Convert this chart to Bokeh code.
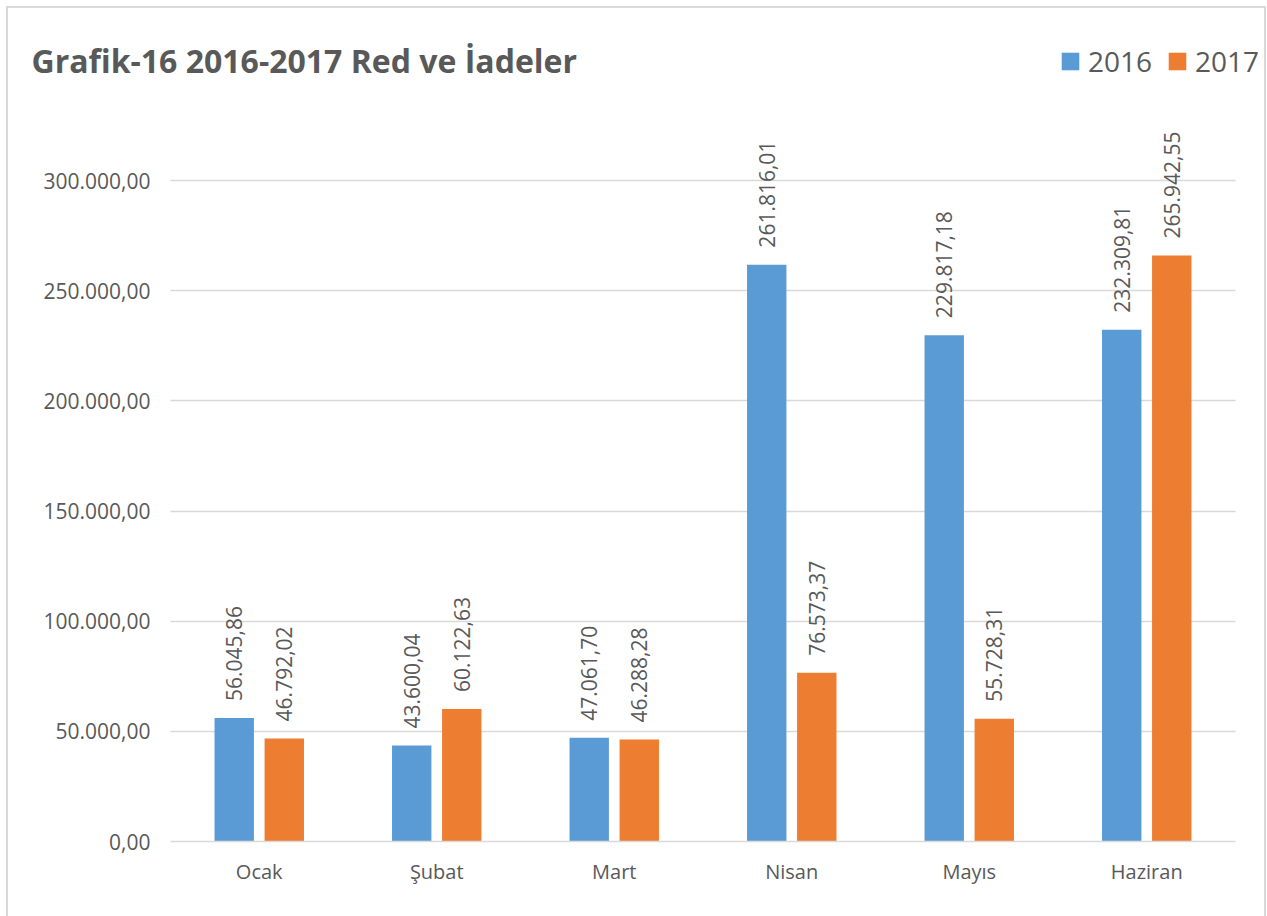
import math
from bokeh.plotting import figure
from bokeh.models import (Range1d, FixedTicker, CustomJSTickFormatter, Grid,
                          Legend, LegendItem, ColumnDataSource, Label)
from bokeh.transform import dodge
from bokeh.embed import file_html
from bokeh.resources import INLINE
from bokeh.core.properties import value

months = ["Ocak", "Şubat", "Mart", "Nisan", "Mayıs", "Haziran"]
series_2016 = [56045.86, 43600.04, 47061.70, 261816.01, 229817.18, 232309.81]
series_2017 = [46792.02, 60122.63, 46288.28, 76573.37, 55728.31, 265942.55]
y_ticks = [0, 50000, 100000, 150000, 200000, 250000, 300000]
title_text = "Grafik-16 2016-2017 Red ve İadeler"


def tr_fmt(v):
    s = f"{v:,.2f}"
    return s.replace(",", "X").replace(".", ",").replace("X", ".")


FONT = "Open Sans"
TXT = "#595959"
BLUE = "#5B9BD5"
ORANGE = "#ED7D31"
GRID = "#D9D9D9"

n = len(months)
xpos = [i + 0.5 for i in range(n)]
src = ColumnDataSource(dict(
    x=xpos,
    v16=series_2016,
    v17=series_2017,
    l16=[tr_fmt(v) for v in series_2016],
    l17=[tr_fmt(v) for v in series_2017],
))

# layout (pixels)
W, H = 1267, 916
canvas_left = 20                    # frame starts here so title/legend are not clipped
cat_left, cat_right = 170, 1235     # where the category band lies
frame_bottom = 841
px_per_cat = (cat_right - cat_left) / n
px_per_unit = 661.0 / 300000.0
x_start = -(cat_left - canvas_left) / px_per_cat
x_end = n + (W - cat_right) / px_per_cat
y_end = frame_bottom / px_per_unit

p = figure(width=W, height=H, x_range=Range1d(x_start, x_end),
           y_range=Range1d(0, y_end), output_backend="svg", toolbar_location=None,
           title=None, min_border_top=0, min_border_left=canvas_left,
           min_border_right=0, min_border_bottom=H - frame_bottom)
p.outline_line_color = None
p.background_fill_color = "white"
p.border_fill_color = "white"

# light grey chart-area border (left, top, right) drawn as an overlay
p.stylesheets = [
    ":host { position: relative; }"
    ":host::after { content: ''; position: absolute; left: 6px; top: 6px;"
    " width: 1260px; height: 910px; box-sizing: border-box;"
    " border-left: 2px solid #D9D9D9; border-top: 2px solid #D9D9D9;"
    " border-right: 2px solid #D9D9D9; pointer-events: none; z-index: 10; }"
]

# grid lines limited to the category band
p.xgrid.grid_line_color = None
p.ygrid.ticker = FixedTicker(ticks=y_ticks)
if "cross_bounds" in Grid.properties():
    p.ygrid.cross_bounds = (0, n)
    p.ygrid.grid_line_color = GRID
    p.ygrid.grid_line_width = 1.5
else:
    p.ygrid.grid_line_color = None
    p.segment(x0=[0] * len(y_ticks), x1=[n] * len(y_ticks), y0=y_ticks, y1=y_ticks,
              line_color=GRID, line_width=1.5)

bw = 0.222
off = 0.141
r16 = p.vbar(x=dodge("x", -off), top="v16", width=bw, source=src,
             fill_color=BLUE, line_color=None)
r17 = p.vbar(x=dodge("x", off), top="v17", width=bw, source=src,
             fill_color=ORANGE, line_color=None)

for col, lab, o in (("v16", "l16", -off), ("v17", "l17", off)):
    p.text(x=dodge("x", o), y=col, text=lab, source=src,
           angle=math.pi / 2, text_align="left", text_baseline="middle",
           y_offset=-17, text_font=value(FONT), text_font_size="21px", text_color=TXT)

# y axis: labels pushed right so they sit just left of the category band
p.yaxis.ticker = FixedTicker(ticks=y_ticks)
p.yaxis.formatter = CustomJSTickFormatter(code="""
    const s = tick.toFixed(2);
    let [i, d] = s.split('.');
    i = i.replace(/\\B(?=(\\d{3})+(?!\\d))/g, '.');
    return i + ',' + d;
""")
p.yaxis.axis_line_color = None
p.yaxis.major_tick_line_color = None
p.yaxis.minor_tick_line_color = None
p.yaxis.major_tick_out = 0
p.yaxis.major_tick_in = 0
p.yaxis.major_label_standoff = -(147 - canvas_left) - 3
p.yaxis.major_label_text_font = FONT
p.yaxis.major_label_text_font_size = "21px"
p.yaxis.major_label_text_color = TXT

p.xaxis.ticker = FixedTicker(ticks=xpos)
p.xaxis.major_label_overrides = {x: m for x, m in zip(xpos, months)}
p.xaxis.bounds = (0, n)
p.xaxis.axis_line_color = GRID
p.xaxis.axis_line_width = 1.5
p.xaxis.major_tick_line_color = None
p.xaxis.minor_tick_line_color = None
p.xaxis.major_label_standoff = 10
p.xaxis.major_label_text_font = FONT
p.xaxis.major_label_text_font_size = "20px"
p.xaxis.major_label_text_color = TXT

# title inside the frame
p.add_layout(Label(x=31 - canvas_left, y=frame_bottom - 73 + 13, x_units="screen",
                   y_units="screen", text=title_text, text_font=FONT,
                   text_font_style="bold", text_font_size="32px", text_color=TXT,
                   text_baseline="alphabetic"))

legend = Legend(items=[LegendItem(label="2016", renderers=[r16]),
                       LegendItem(label="2017", renderers=[r17])],
                orientation="horizontal", location=(1059 - canvas_left, 761),
                glyph_width=22, glyph_height=22, label_standoff=7, spacing=14,
                padding=0, margin=0, border_line_color=None, background_fill_alpha=0,
                label_text_font=FONT, label_text_font_size="28px", label_text_color=TXT)
p.add_layout(legend, "center")

open("out.html", "w").write(file_html(p, INLINE))
